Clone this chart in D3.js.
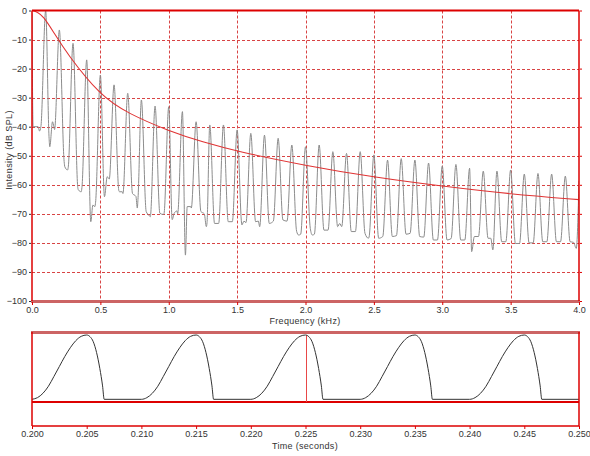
<!DOCTYPE html>
<html>
<head>
<meta charset="utf-8">
<script src="https://cdn.jsdelivr.net/npm/d3@7"></script>
<style>
  body { margin: 0; background: #fff; }
  text { font-family: "Liberation Sans", Arial, sans-serif; fill: #333; }
</style>
</head>
<body>
<svg id="chart"></svg>
<script>
// spectrum: harmonic peaks (kHz, dB) and the valley points between them
const peakKHz = [0.1,0.2,0.3,0.4,0.5,0.6,0.7,0.8,0.9,1.0,1.1,1.2,1.3,1.4,1.5,1.6,1.7,1.8,1.9,2.0,
                 2.1,2.2,2.3,2.4,2.5,2.6,2.7,2.8,2.9,3.0,3.1,3.2,3.3,3.4,3.5,3.6,3.7,3.8,3.9,4.0];
const peakDB = [0,-6.7,-11.3,-17,-22.2,-25.6,-28.5,-30.8,-32.9,-33.1,-34.8,-38.3,-39.4,-39.4,-41.1,-42.3,-42.9,-44,-46.3,-46.9,
                -46.3,-48.6,-49.2,-48.6,-49.7,-51.5,-51,-51.5,-52.5,-53.5,-53,-54.3,-55.3,-55.3,-54.9,-56.3,-56.1,-56.3,-57,-58.6];
// valleys[i] = points before peak i
const valleys = [
  [[0,-1],[0.008,-40],[0.045,-40],[0.055,-41.5],[0.065,-40]],
  [[0.125,-44],[0.13,-46.9],[0.15,-38.3],[0.16,-40],[0.165,-41]],
  [[0.235,-52],[0.24,-53.8],[0.26,-54.9],[0.265,-54]],
  [[0.335,-61],[0.34,-61.8],[0.36,-62.4],[0.365,-61]],
  [[0.43,-72.7],[0.445,-67],[0.46,-67.5],[0.465,-66]],
  [[0.53,-64.1],[0.55,-57.2],[0.56,-57.8],[0.565,-58]],
  [[0.635,-62],[0.64,-62.4],[0.66,-62.4],[0.665,-63]],
  [[0.735,-63],[0.76,-64],[0.77,-68],[0.775,-65]],
  [[0.835,-69.2],[0.855,-70.5],[0.865,-71]],
  [[0.935,-69.8],[0.96,-70.2],[0.965,-70]],
  [[1.025,-72],[1.04,-69.8],[1.06,-69],[1.065,-70]],
  [[1.122,-84.2],[1.135,-67.5],[1.16,-67.5],[1.165,-68]],
  [[1.235,-69.2],[1.26,-70],[1.275,-74.4],[1.28,-73]],
  [[1.335,-73.3],[1.365,-73.3]],
  [[1.435,-72.7],[1.465,-72.7]],
  [[1.535,-73.8],[1.55,-72.5],[1.565,-73]],
  [[1.635,-72.7],[1.655,-72.5],[1.665,-74.4]],
  [[1.735,-73.3],[1.765,-72.5]],
  [[1.835,-72.1],[1.865,-72.5]],
  [[1.935,-76],[1.95,-77.3],[1.965,-77]],
  [[2.035,-75],[2.05,-77.3],[2.065,-77]],
  [[2.135,-75.6],[2.165,-75.6]],
  [[2.235,-74.4],[2.25,-73.3],[2.265,-74.4]],
  [[2.335,-76.1],[2.365,-76.1]],
  [[2.435,-76.7],[2.46,-78.4],[2.465,-78]],
  [[2.535,-78.4],[2.565,-77.8]],
  [[2.635,-77.8],[2.665,-77.5]],
  [[2.735,-77],[2.765,-76.7]],
  [[2.835,-77.8],[2.865,-78]],
  [[2.935,-79],[2.965,-79]],
  [[3.035,-79],[3.065,-78.5]],
  [[3.135,-79],[3.165,-79]],
  [[3.215,-83],[3.235,-77.8],[3.265,-77.8]],
  [[3.335,-78.4],[3.355,-78.4],[3.37,-82.4]],
  [[3.435,-79.6],[3.465,-79.6]],
  [[3.535,-80.2],[3.565,-80.2]],
  [[3.635,-80],[3.665,-80]],
  [[3.735,-79.6],[3.765,-79.6]],
  [[3.835,-79.6],[3.865,-79.6]],
  [[3.935,-79.6],[3.96,-79.8],[3.98,-81.9]]
];
// smooth red envelope
const envKHz = [0,0.04,0.083,0.156,0.253,0.5,0.7,1.0,1.25,1.5,2.0,2.5,3.0,3.5,4.0];
const envDB = [0,-0.5,-2,-7.3,-14.7,-29.4,-35.4,-41.5,-45.3,-48.5,-53.4,-57.4,-60.5,-63.2,-65.1];

// glottal pulse, one period (ms offset, amplitude) and pulse start times
const pulseMs = [0,0.5,1,1.5,2,2.5,3,3.5,4,4.5,5,5.3,5.6,5.9,6.2,6.45,6.6,10];
const pulseAmp = [0.04,0.065,0.13,0.235,0.38,0.53,0.68,0.81,0.915,0.98,1.0,0.975,0.9,0.74,0.5,0.24,0.04,0.04];
const pulseStarts = [0.200,0.210,0.220,0.230,0.240];
const cursorTime = 0.225;

const freqTicks = [0,0.5,1,1.5,2,2.5,3,3.5,4];
const dbTicks = [0,-10,-20,-30,-40,-50,-60,-70,-80,-90,-100];
const timeTicks = [0.200,0.205,0.210,0.215,0.220,0.225,0.230,0.235,0.240,0.245,0.250];

const svgWidth = 590, svgHeight = 456;
const left = 32, right = 579;
const spec = {top: 10.5, bottom: 301};
const wave = {top: 332, bottom: 426};

const red = "#dd0000", mutedRed = "#cc6464", gridRed = "#d84444";
const fontSize = "9px";

const chart = d3.select('#chart')
    .attr("width", svgWidth)
    .attr("height", svgHeight);

var xScale = d3.scaleLinear().domain([0, 4]).range([left, right]);
var yScale = d3.scaleLinear().domain([-100, 0]).range([spec.bottom, spec.top]);
var tScale = d3.scaleLinear().domain([0.2, 0.25]).range([left, right]);
var aScale = d3.scaleLinear().domain([0, 1]).range([402, 335]);

chart.append("defs").append("clipPath").attr("id", "specClip")
    .append("rect")
    .attr("x", left).attr("y", spec.top)
    .attr("width", right - left).attr("height", spec.bottom - spec.top);

// ---- top panel: grid ----
const grid = chart.append("g")
    .attr("stroke", gridRed).attr("stroke-width", 1).attr("stroke-dasharray", "3,2");
grid.selectAll(".hg").data(dbTicks.filter(d => d > -100 && d < 0)).enter()
    .append("line")
    .attr("x1", left).attr("x2", right)
    .attr("y1", d => Math.round(yScale(d)) + 0.5).attr("y2", d => Math.round(yScale(d)) + 0.5);
grid.selectAll(".vg").data(freqTicks.filter(d => d > 0 && d < 4)).enter()
    .append("line")
    .attr("y1", spec.top).attr("y2", spec.bottom)
    .attr("x1", d => Math.round(xScale(d)) + 0.5).attr("x2", d => Math.round(xScale(d)) + 0.5);

// spectrum trace
var specPts = [];
peakKHz.forEach(function(f, i) {
    valleys[i].forEach(p => specPts.push(p));
    specPts.push([f, peakDB[i]]);
});

var specLine = d3.line()
    .x(d => xScale(d[0]))
    .y(d => yScale(d[1]))
    .curve(d3.curveMonotoneX);

chart.append("path")
    .datum(specPts)
    .attr("clip-path", "url(#specClip)")
    .attr("fill", "none")
    .attr("stroke", "#8c8c8c")
    .attr("stroke-width", 1)
    .attr("d", specLine);

chart.append("path")
    .datum(envKHz.map((f, i) => [f, envDB[i]]))
    .attr("clip-path", "url(#specClip)")
    .attr("fill", "none")
    .attr("stroke", "#e03434")
    .attr("stroke-width", 1.1)
    .attr("d", specLine.curve(d3.curveBasis));

// borders
chart.append("line").attr("x1", left).attr("x2", right).attr("y1", spec.top).attr("y2", spec.top)
    .attr("stroke", red).attr("stroke-width", 2);
chart.append("line").attr("x1", left - 1).attr("x2", right + 1).attr("y1", spec.bottom + 0.5).attr("y2", spec.bottom + 0.5)
    .attr("stroke", mutedRed).attr("stroke-width", 3);
chart.append("line").attr("x1", left).attr("x2", left).attr("y1", spec.top).attr("y2", spec.bottom)
    .attr("stroke", red).attr("stroke-width", 1.5);
chart.append("line").attr("x1", right).attr("x2", right).attr("y1", spec.top).attr("y2", spec.bottom)
    .attr("stroke", red).attr("stroke-width", 1.5);

// left axis
var yAxis = d3.axisLeft(yScale).tickValues(dbTicks).tickSize(2).tickPadding(2).tickFormat(d3.format("d"));
var ya = chart.append("g").attr("transform", "translate(" + (left - 1) + ",0)").call(yAxis);
ya.select(".domain").remove();
ya.selectAll("line").attr("stroke", "#333");
ya.selectAll("text").attr("font-size", fontSize).attr("fill", "#333");

// right side small ticks
var ry = d3.axisRight(yScale).tickValues(dbTicks).tickSize(2).tickFormat("");
var ra = chart.append("g").attr("transform", "translate(" + (right + 1) + ",0)").call(ry);
ra.select(".domain").remove();
ra.selectAll("line").attr("stroke", red);

// bottom axis
var xAxis = d3.axisBottom(xScale).tickValues(freqTicks).tickSize(3).tickPadding(2).tickFormat(d3.format(".1f"));
var xa = chart.append("g").attr("transform", "translate(0," + (spec.bottom + 1) + ")").call(xAxis);
xa.select(".domain").remove();
xa.selectAll("line").attr("stroke", red);
xa.selectAll("text").attr("font-size", fontSize).attr("fill", "#333");

chart.append("text")
    .attr("x", 305).attr("y", 324)
    .attr("text-anchor", "middle")
    .attr("font-size", fontSize)
    .style("letter-spacing", "0.3px")
    .text("Frequency (kHz)");

chart.append("text")
    .attr("transform", "translate(12,150) rotate(-90)")
    .attr("text-anchor", "middle")
    .attr("font-size", fontSize)
    .style("letter-spacing", "0.4px")
    .text("Intensity (dB SPL)");

// ---- bottom panel: waveform ----
var wavePts = [];
pulseStarts.forEach(function(t0) {
    pulseMs.forEach((ms, j) => wavePts.push([t0 + ms / 1000, pulseAmp[j]]));
});

var waveLine = d3.line()
    .x(d => tScale(d[0]))
    .y(d => aScale(d[1]))
    .curve(d3.curveMonotoneX);

chart.append("line").attr("x1", left).attr("x2", right).attr("y1", aScale(0)).attr("y2", aScale(0))
    .attr("stroke", red).attr("stroke-width", 2);

// cursor
var cursorAmp = pulseAmp[pulseMs.indexOf(Math.round((cursorTime - 0.22) * 1000))];
chart.append("line")
    .attr("x1", Math.round(tScale(cursorTime)) + 0.5).attr("x2", Math.round(tScale(cursorTime)) + 0.5)
    .attr("y1", aScale(cursorAmp)).attr("y2", aScale(0))
    .attr("stroke", "#e84848").attr("stroke-width", 1);

chart.append("path")
    .datum(wavePts)
    .attr("fill", "none")
    .attr("stroke", "#333")
    .attr("stroke-width", 1)
    .attr("d", waveLine);

chart.append("line").attr("x1", left - 1).attr("x2", right + 1).attr("y1", wave.top + 0.5).attr("y2", wave.top + 0.5)
    .attr("stroke", mutedRed).attr("stroke-width", 3);
chart.append("line").attr("x1", left).attr("x2", left).attr("y1", wave.top).attr("y2", wave.bottom)
    .attr("stroke", red).attr("stroke-width", 1.5);
chart.append("line").attr("x1", right).attr("x2", right).attr("y1", wave.top).attr("y2", wave.bottom)
    .attr("stroke", red).attr("stroke-width", 1.5);
chart.append("line").attr("x1", left).attr("x2", right).attr("y1", wave.bottom).attr("y2", wave.bottom)
    .attr("stroke", red).attr("stroke-width", 1.5);

var tAxis = d3.axisBottom(tScale).tickValues(timeTicks).tickSize(3).tickPadding(2).tickFormat(d3.format(".3f"));
var ta = chart.append("g").attr("transform", "translate(0," + wave.bottom + ")").call(tAxis);
ta.select(".domain").remove();
ta.selectAll("line").attr("stroke", red);
ta.selectAll("text").attr("font-size", fontSize).attr("fill", "#333");

chart.append("text")
    .attr("x", 305).attr("y", 449)
    .attr("text-anchor", "middle")
    .attr("font-size", fontSize)
    .style("letter-spacing", "0.3px")
    .text("Time (seconds)");
</script>
</body>
</html>
